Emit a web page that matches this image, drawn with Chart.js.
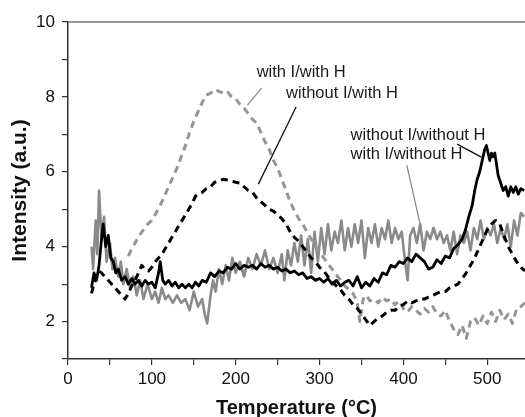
<!DOCTYPE html>
<html>
<head>
<meta charset="utf-8">
<script src="https://cdn.jsdelivr.net/npm/chart.js@4.4.0/dist/chart.umd.min.js"></script>
<style>
  html, body { margin: 0; padding: 0; background: #fff; }
</style>
</head>
<body>
<canvas id="chart" width="525" height="417"></canvas>
<script>
// Temperatures (°C) and intensities (a.u.)

// without I / without H (black solid)
let tempNoneNone = [28,31,34,37,40,42,45,48,51,54,57,60,64,68,72,76,80,84,88,92,96,100,104,108,110,113,116,120,124,128,132,136,140,144,148,152,156,160,165,170,175,180,185,190,195,200,205,210,215,220,225,230,235,240,245,250,255,260,265,270,275,280,285,290,295,300,305,310,315,320,325,330,335,340,345,350,355,360,365,370,375,380,385,390,395,400,405,410,415,420,425,430,435,440,445,450,455,460,465,470,474,478,482,485,488,491,494,497,499,501,503,505,507,509,511,513,516,519,522,525,528,531,534,537,540,544];
let valNoneNone = [2.9,3.3,3.1,3.5,4.2,4.6,4.0,4.3,3.7,3.6,3.3,3.4,3.1,3.2,3.0,3.15,3.0,3.1,2.95,3.1,3.0,3.05,2.9,3.3,3.6,3.1,3.0,3.1,2.95,3.05,2.9,3.0,2.9,3.0,2.9,3.05,2.95,3.1,3.05,3.3,3.2,3.35,3.3,3.45,3.4,3.55,3.4,3.5,3.45,3.5,3.4,3.55,3.45,3.5,3.4,3.45,3.35,3.4,3.3,3.35,3.25,3.3,3.15,3.2,3.1,3.15,3.05,3.15,3.0,3.1,2.95,3.05,3.1,2.95,3.2,2.9,3.05,2.95,3.15,3.05,3.3,3.25,3.5,3.45,3.6,3.55,3.7,3.6,3.8,3.7,3.6,3.4,3.45,3.65,3.55,3.75,3.7,3.95,4.05,4.2,4.45,4.8,5.1,5.5,5.8,6.0,6.3,6.6,6.7,6.5,6.3,6.5,6.4,6.5,6.2,5.9,5.7,5.5,5.6,5.35,5.6,5.45,5.6,5.4,5.55,5.5];

// without I / with H (black dashed)
let tempNoneWith = [28,31,34,37,40,44,48,52,56,60,64,68,72,76,80,84,88,92,96,100,104,108,112,116,120,124,128,132,136,140,144,148,152,156,160,165,170,175,180,185,190,195,200,205,210,215,220,225,230,235,240,245,250,255,260,265,270,275,280,285,290,295,300,305,310,315,320,325,330,335,340,345,350,355,360,365,370,375,380,385,390,395,400,405,410,415,420,425,430,435,440,445,450,455,460,465,470,475,480,485,490,495,500,505,510,515,520,525,530,535,540,545];
let valNoneWith = [2.75,3.0,3.2,3.35,3.3,3.2,3.1,3.0,2.9,2.8,2.7,2.6,2.75,2.95,3.1,3.3,3.5,3.4,3.35,3.45,3.6,3.7,3.8,3.95,4.1,4.25,4.4,4.55,4.7,4.85,5.0,5.15,5.35,5.4,5.45,5.55,5.6,5.72,5.75,5.8,5.78,5.75,5.72,5.7,5.6,5.5,5.45,5.3,5.2,5.1,5.0,4.95,4.85,4.75,4.6,4.4,4.25,4.15,4.0,3.85,3.7,3.6,3.45,3.35,3.2,3.05,2.95,2.85,2.7,2.6,2.45,2.35,2.2,2.05,1.9,2.0,2.1,2.15,2.25,2.3,2.3,2.4,2.45,2.55,2.5,2.55,2.6,2.6,2.65,2.7,2.75,2.8,2.8,2.9,2.95,3.0,3.15,3.3,3.5,3.7,3.95,4.2,4.45,4.6,4.7,4.6,4.3,4.0,3.8,3.6,3.45,3.35];

// with I / with H (grey dashed)
let tempWithWith = [72,75,80,85,90,95,100,105,110,115,120,125,130,135,140,145,150,155,160,165,170,175,180,185,190,195,200,205,210,215,220,225,230,235,240,245,250,255,260,265,270,275,280,285,290,295,300,305,310,315,320,325,330,335,340,345,348,352,356,360,365,370,375,380,385,390,395,400,405,410,415,420,425,430,435,440,445,450,455,460,465,470,475,480,485,490,495,500,505,510,515,520,525,530,535,540,545];
let valWithWith = [3.75,3.9,4.1,4.3,4.45,4.6,4.7,4.9,5.1,5.35,5.6,5.85,6.1,6.4,6.7,7.05,7.35,7.6,7.85,8.05,8.1,8.2,8.15,8.1,8.15,8.0,7.95,7.8,7.7,7.55,7.4,7.3,7.05,6.8,6.6,6.3,6.1,5.8,5.5,5.2,4.95,4.75,4.6,4.4,4.2,4.0,3.85,3.7,3.55,3.4,3.25,3.1,2.95,2.85,2.75,2.5,2.0,2.6,2.7,2.55,2.6,2.5,2.65,2.55,2.6,2.45,2.55,2.35,2.25,2.4,2.3,2.2,2.35,2.25,2.4,2.2,2.15,2.3,2.0,1.8,1.65,1.9,1.55,2.0,2.1,1.9,2.15,1.95,2.25,2.0,2.3,2.05,2.2,1.95,2.35,2.4,2.5];

// with I / without H (grey solid)
let tempWithNone = [28,30,33,35,37,40,43,46,50,53,56,60,63,66,70,74,78,82,86,90,95,100,104,108,112,116,120,125,130,135,140,145,150,155,160,163,166,170,173,176,180,184,188,192,196,200,205,210,215,220,225,230,235,240,245,250,255,258,262,266,270,274,278,282,286,290,294,298,302,306,310,314,318,322,326,330,334,338,342,346,350,354,358,362,366,370,374,378,382,386,390,394,398,402,405,408,412,416,420,424,428,432,436,440,444,448,452,456,460,464,468,472,476,480,484,488,492,496,500,504,508,512,516,520,524,528,532,536,540,544];
let valWithNone = [4.0,3.4,4.7,3.8,5.5,4.2,4.8,3.6,4.1,3.4,3.7,3.2,3.6,3.0,3.4,2.9,3.2,2.7,3.1,2.6,3.0,2.6,2.8,2.5,2.9,2.6,2.7,2.5,2.7,2.5,2.6,2.3,2.8,2.4,2.6,2.2,1.95,2.7,3.1,2.8,3.4,3.0,3.5,3.1,3.7,3.3,3.6,3.2,3.7,3.4,3.8,3.5,3.9,3.4,3.7,3.3,3.8,3.1,3.9,3.5,4.1,3.6,4.3,3.5,4.2,3.3,4.4,3.6,4.5,3.8,4.6,3.9,4.4,4.1,4.7,3.9,4.5,4.0,4.6,4.1,4.7,3.7,4.5,4.1,4.6,4.0,4.5,4.2,4.7,4.1,4.5,4.2,4.4,3.6,3.1,4.3,4.5,4.1,4.6,3.9,4.4,4.2,4.5,4.2,4.4,4.1,4.3,3.9,4.4,3.8,4.3,4.1,4.4,3.9,4.5,4.2,4.7,4.2,4.5,4.3,4.6,4.1,4.5,4.2,4.6,4.0,4.7,4.3,4.9,4.8];

// curve labels and their leader lines, in data units (°C, a.u.)
let labelTexts = ['with I/with H', 'without I/with H', 'without I/without H', 'with I/without H'];
let labelT = [225, 260, 337, 337];
let labelI = [8.66, 8.08, 6.98, 6.45];
let leaderFrom = [[214, 7.78], [272, 7.73], [464, 6.74], [404, 6.18]];
let leaderTo = [[231, 8.24], [227, 5.67], [493, 6.39], [421, 4.5]];
let leaderColors = ['#8c8c8c', '#111', '#111', '#8c8c8c'];

let xTicksShown = [0, 100, 200, 300, 400, 500];
let yTicksShown = [2, 4, 6, 8, 10];

function pts(t, v) {
    return t.map((x, i) => ({ x: x, y: v[i] }));
}

const fontName = "'Liberation Sans', Arial, sans-serif";

const labelsPlugin = {
    id: 'curveLabels',
    afterDraw(chart) {
        const c = chart.ctx;
        const xs = chart.scales.x, ys = chart.scales.y;
        const area = chart.chartArea;
        c.save();
        // top frame line
        c.strokeStyle = '#777';
        c.lineWidth = 1.5;
        c.beginPath();
        c.moveTo(area.left, area.top);
        c.lineTo(area.right, area.top);
        c.stroke();

        for (let i = 0; i < labelTexts.length; i++) {
            c.strokeStyle = leaderColors[i];
            c.lineWidth = 1.3;
            c.beginPath();
            c.moveTo(xs.getPixelForValue(leaderFrom[i][0]), ys.getPixelForValue(leaderFrom[i][1]));
            c.lineTo(xs.getPixelForValue(leaderTo[i][0]), ys.getPixelForValue(leaderTo[i][1]));
            c.stroke();

            c.fillStyle = '#1a1a1a';
            c.font = '16.5px ' + fontName;
            c.textAlign = 'left';
            c.textBaseline = 'middle';
            c.fillText(labelTexts[i], xs.getPixelForValue(labelT[i]), ys.getPixelForValue(labelI[i]));
        }
        c.restore();
    }
};

const ctx = document.getElementById('chart').getContext('2d');
const myChart = new Chart(ctx, {
    type: 'line',
    data: {
        datasets: [
            {
                label: 'without I/without H',
                data: pts(tempNoneNone, valNoneNone),
                borderColor: '#000',
                borderWidth: 2.8
            },
            {
                label: 'without I/with H',
                data: pts(tempNoneWith, valNoneWith),
                borderColor: '#000',
                borderWidth: 3,
                borderDash: [7, 5]
            },
            {
                label: 'with I/with H',
                data: pts(tempWithWith, valWithWith),
                borderColor: '#959595',
                borderWidth: 3,
                borderDash: [7, 5]
            },
            {
                label: 'with I/without H',
                data: pts(tempWithNone, valWithNone),
                borderColor: '#8a8a8a',
                borderWidth: 2.6
            }
        ]
    },
    options: {
        responsive: false,
        animation: false,
        devicePixelRatio: 1,
        layout: { padding: { top: 22, right: 0, left: 0, bottom: 0 } },
        elements: {
            point: { radius: 0 },
            line: { tension: 0, borderJoinStyle: 'round' }
        },
        plugins: {
            legend: { display: false },
            tooltip: { enabled: false }
        },
        scales: {
            x: {
                type: 'linear',
                min: 0,
                max: 545,
                afterFit: s => { s.height = 58; },
                border: { color: '#333', width: 1.5 },
                grid: { drawOnChartArea: false, tickLength: 6, color: '#333', lineWidth: 1.2 },
                ticks: {
                    stepSize: 50,
                    includeBounds: false,
                    autoSkip: false,
                    maxRotation: 0,
                    padding: 4,
                    color: '#111',
                    font: { family: fontName, size: 17 },
                    callback: v => xTicksShown.includes(v) ? v : ''
                },
                title: {
                    display: true,
                    text: 'Temperature (°C)',
                    color: '#111',
                    font: { family: fontName, size: 20, weight: 'bold' },
                    padding: { top: 0, bottom: -3 }
                }
            },
            y: {
                min: 1,
                max: 10,
                afterFit: s => { s.width = 68; },
                border: { color: '#333', width: 1.5 },
                grid: { drawOnChartArea: false, tickLength: 6, color: '#333', lineWidth: 1.2 },
                ticks: {
                    stepSize: 1,
                    autoSkip: false,
                    padding: 7,
                    color: '#111',
                    font: { family: fontName, size: 17 },
                    callback: v => yTicksShown.includes(v) ? v : ''
                },
                title: {
                    display: true,
                    text: 'Intensity (a.u.)',
                    color: '#111',
                    font: { family: fontName, size: 21, weight: 'bold' },
                    padding: { top: 8, bottom: 0 }
                }
            }
        }
    },
    plugins: [labelsPlugin]
});
</script>
</body>
</html>
